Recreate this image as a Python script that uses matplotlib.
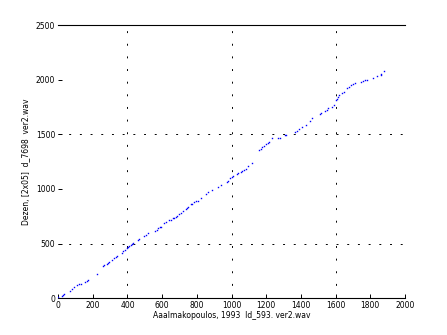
import matplotlib
matplotlib.use("Agg")
import matplotlib.pyplot as plt

# values (x: Aaalmakopoulos, y: Dezen)
x_vals = [2, 21, 31, 36, 69, 79, 94, 111, 121, 133, 156, 165, 171, 227,
          257, 267, 280, 286, 294, 313, 325, 332, 338, 367, 377, 386, 396,
          402, 409, 421, 428, 434, 459, 467, 498, 505, 521, 559, 569, 578,
          588, 594, 613, 621, 642, 651, 665, 670, 678, 684, 699, 709, 719,
          736, 742, 747, 765, 774, 786, 795, 805, 824, 853, 867, 886, 924,
          938, 972, 978, 991, 1001, 1011, 1030, 1039, 1053, 1062, 1072, 1082,
          1097, 1120, 1160, 1168, 1178, 1187, 1199, 1212, 1218, 1235, 1270,
          1280, 1308, 1312, 1366, 1376, 1389, 1404, 1427, 1452, 1462, 1510,
          1516, 1539, 1549, 1558, 1577, 1593, 1600, 1606, 1612, 1620, 1639,
          1648, 1668, 1677, 1687, 1702, 1712, 1744, 1760, 1769, 1783, 1817,
          1840, 1860, 1860, 1881]
y_vals = [6, 18, 27, 37, 67, 82, 101, 122, 128, 134, 150, 159, 165, 217,
          290, 299, 311, 321, 330, 348, 366, 375, 385, 418, 430, 443, 458,
          470, 479, 488, 497, 507, 531, 540, 568, 577, 592, 617, 626, 638,
          647, 656, 687, 696, 720, 720, 730, 730, 745, 751, 769, 781, 794,
          815, 824, 833, 858, 858, 876, 885, 894, 919, 955, 974, 986, 1022,
          1032, 1065, 1074, 1099, 1111, 1114, 1133, 1142, 1154, 1166, 1175,
          1184, 1206, 1233, 1352, 1364, 1383, 1392, 1407, 1422, 1431, 1462,
          1471, 1471, 1490, 1493, 1523, 1535, 1548, 1566, 1584, 1621, 1645,
          1685, 1691, 1712, 1725, 1737, 1746, 1773, 1810, 1828, 1844, 1856,
          1883, 1892, 1926, 1938, 1953, 1962, 1966, 1978, 1990, 1999, 1999,
          2012, 2030, 2042, 2051, 2076]

x_ticks = [0, 200, 400, 600, 800, 1000, 1200, 1400, 1600, 1800, 2000]
y_ticks = [0, 500, 1000, 1500, 2000, 2500]
grid_x = [400, 1000, 1600]
grid_y = [500, 1500]

fig = plt.figure(figsize=(4.47, 3.35), dpi=100)
ax = fig.add_axes([0.130, 0.110, 0.776, 0.815])

# only some grid lines survive in the original low-res rendering
for gx in grid_x:
    ax.axvline(gx, color='black', lw=0.7, ls=(0, (2, 11)), zorder=1)
for gy in grid_y:
    ax.axhline(gy, color='black', lw=0.7, ls=(0, (2, 9)), zorder=1)

ax.plot(x_vals, y_vals, ls='none', marker='s', ms=1.0, mec='none',
        color='#0000ff', zorder=3)

ax.set_xlim(0, 2000)
ax.set_ylim(0, 2500)
ax.set_xticks(x_ticks)
ax.set_yticks(y_ticks)
ax.tick_params(direction='in', length=3, width=0.7, labelsize=5.5, pad=2)

for side in ['left', 'right']:
    ax.spines[side].set_visible(False)
ax.spines['top'].set_linewidth(0.8)
ax.spines['bottom'].set_linewidth(0.8)

ax.set_xlabel('Aaalmakopoulos, 1993  Id_593. ver2.wav', fontsize=5.5, labelpad=1)
ax.set_ylabel('Dezen, [2x05]  d_7698  ver2.wav', fontsize=5.5, labelpad=4)

fig.savefig('out.png', dpi=100)
